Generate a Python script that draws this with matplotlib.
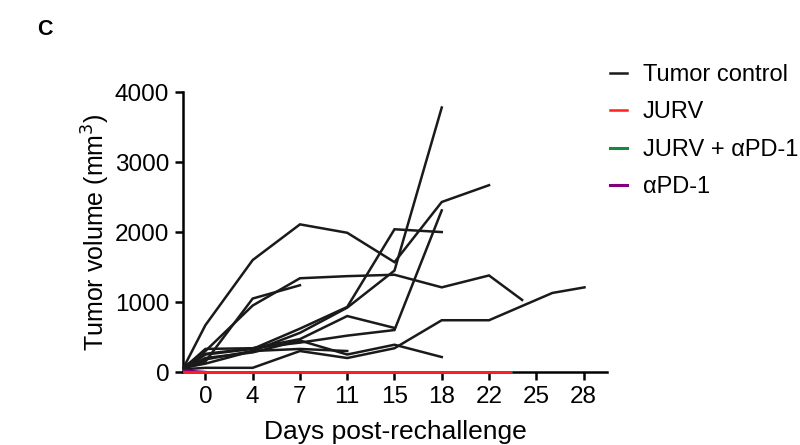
import matplotlib
matplotlib.use("Agg")
import matplotlib.pyplot as plt
import numpy as np

plt.rcParams['font.family'] = ['Liberation Sans', 'DejaVu Sans']

day_labels = ["0", "4", "7", "11", "15", "18", "22", "25", "28"]

# x given in tick-slot units (0 = day 0, 1 = day 4, ...); -0.45 = pre-rechallenge
ctrl_x = {
    "A": [-0.45, 0, 1, 2, 3, 4, 5, 6],
    "B": [-0.45, 0, 1, 2, 3, 4, 5],
    "C": [-0.45, 0, 1, 2, 3, 4, 5],
    "D": [-0.45, 0, 1, 2, 3, 4, 5, 6, 6.7],
    "E": [-0.45, 0, 1, 2, 3, 4, 5],
    "F": [-0.45, 0, 1, 2, 3, 4, 5, 6, 7.34, 8.02],
    "G": [-0.45, 0, 1, 2],
    "H": [-0.45, 0, 1, 2, 3, 4, 5],
    "I": [-0.45, 0, 1, 2, 3, 4],
    "J": [-0.45, 0, 1, 2, 3],
}
ctrl_y = {
    "A": [80, 670, 1600, 2110, 1990, 1570, 2430, 2670],
    "B": [60, 120, 300, 560, 920, 1450, 3780],
    "C": [50, 250, 330, 620, 930, 2040, 2000],
    "D": [70, 300, 950, 1340, 1370, 1390, 1210, 1380, 1030],
    "E": [60, 330, 340, 420, 520, 600, 2310],
    "F": [40, 60, 60, 300, 200, 340, 740, 740, 1130, 1210],
    "G": [60, 150, 1050, 1240],
    "H": [50, 200, 280, 450, 250, 390, 214],
    "I": [60, 260, 340, 470, 800, 630],
    "J": [50, 180, 300, 330, 300],
}
jurv_x = [-0.45, 6.45]
jurv_y = [0, 0]
combo_x = [-0.45, 6.47]
combo_y = [0, 0]
apd1_x = [-0.45, 0]
apd1_y = [20, 0]

fig = plt.figure(figsize=(8, 4.45), dpi=100)
ax = fig.add_axes([0.229, 0.164, 0.530, 0.629])

for k in ctrl_x:
    ax.plot(ctrl_x[k], ctrl_y[k], color="#1a1a1a", lw=1.8, solid_joinstyle="miter",
            clip_on=False, zorder=3)
ax.plot(apd1_x, apd1_y, color="#800080", lw=1.8, clip_on=False, zorder=4)
ax.plot(combo_x, combo_y, color="#138a3e", lw=1.8, clip_on=False, zorder=4)
ax.plot(jurv_x, jurv_y, color="#ff2020", lw=1.8, clip_on=False, zorder=5)

ax.set_xlim(-0.47, 8.5)
ax.set_ylim(0, 4000)
ax.set_xticks(np.arange(len(day_labels)))
ax.set_xticklabels(day_labels)
ax.set_yticks([0, 1000, 2000, 3000, 4000])
for s in ["top", "right"]:
    ax.spines[s].set_visible(False)
for s in ["left", "bottom"]:
    ax.spines[s].set_linewidth(1.8)
ax.tick_params(axis="both", which="major", direction="out", length=6, width=1.8,
               labelsize=17.5, pad=4)
ax.set_xlabel("Days post-rechallenge", fontsize=19, labelpad=9)
ax.set_ylabel("Tumor volume (mm$^3$)", fontsize=18, labelpad=2)

fig.text(0.047, 0.934, "C", fontsize=15.5, fontweight="bold", ha="left", va="center")

handles = [
    plt.Line2D([], [], color="#1a1a1a", lw=1.8),
    plt.Line2D([], [], color="#ff2020", lw=1.8),
    plt.Line2D([], [], color="#138a3e", lw=2.2),
    plt.Line2D([], [], color="#800080", lw=2.2),
]
labels = ["Tumor control", "JURV", "JURV + αPD-1", "αPD-1"]
leg = fig.legend(handles, labels, loc="upper left", bbox_to_anchor=(0.762, 0.856),
                 frameon=False, fontsize=17, handlelength=0.75, handletextpad=0.65,
                 labelspacing=0.65, borderaxespad=0, borderpad=0)

fig.savefig("out.png", dpi=100)
